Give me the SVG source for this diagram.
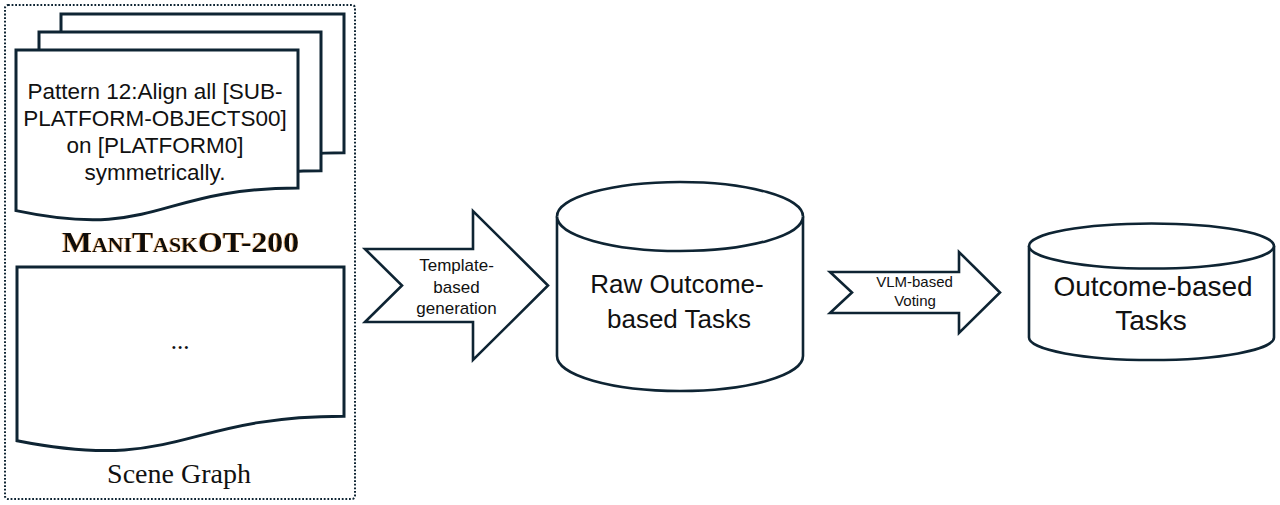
<svg xmlns="http://www.w3.org/2000/svg" width="1280" height="505" viewBox="0 0 1280 505">
  <style>
    .shape { fill: #ffffff; stroke: #0e2433; stroke-width: 2.6; stroke-linejoin: miter; }
    .doc { fill: #ffffff; stroke: #0e2433; stroke-width: 3; }
    .sans { font-family: "Liberation Sans", Arial, sans-serif; fill: #111111; text-anchor: middle; }
    .serif { font-family: "Liberation Serif", "Times New Roman", serif; fill: #111111; text-anchor: middle; }
  </style>
  <defs>
    <filter id="glow" x="-5%" y="-20%" width="110%" height="140%">
      <feDropShadow dx="-0.7" dy="0" stdDeviation="0.35" flood-color="#e0892a" flood-opacity="0.8"/>
    </filter>
  </defs>
  <rect width="1280" height="505" fill="#ffffff"/>

  <g id="source-panel">
    <rect x="5" y="5" width="350" height="494" rx="3" fill="none" stroke="#0e2433" stroke-width="2" stroke-dasharray="1.8 1.8"/>
  </g>

  <g id="pattern-docs">
    <path class="doc" d="M61,14 H344 V152.7 C202.5,152.7 202.5,205.5 61,175.6 Z"/>
    <path class="doc" d="M39,32 H321 V170.7 C180,170.7 180,223.5 39,193.7 Z"/>
    <path class="doc" d="M16,50 H298 V188 C157,188 157,240.4 16,210.6 Z"/>
    <text class="sans" font-size="22.5" x="155" y="99">Pattern 12:Align all [SUB-</text>
    <text class="sans" font-size="22.5" x="155" y="126">PLATFORM-OBJECTS00]</text>
    <text class="sans" font-size="22.5" x="155" y="153">on [PLATFORM0]</text>
    <text class="sans" font-size="22.5" x="155" y="180">symmetrically.</text>
  </g>

  <g id="manitask-label">
    <text class="serif" x="180.5" y="252" font-size="29" font-weight="bold" font-variant="small-caps" textLength="237" lengthAdjust="spacingAndGlyphs" fill="#111111" filter="url(#glow)">ManiTaskOT-200</text>
  </g>

  <g id="scene-graph">
    <path class="doc" d="M17,267 H344 V416.2 C180.5,416.2 180.5,472.9 17,440.7 Z"/>
    <text class="serif" x="180" y="349" font-size="25">...</text>
    <text class="serif" x="179" y="483" font-size="28">Scene Graph</text>
  </g>

  <g id="connectors">
    <g id="template-arrow">
      <path class="shape" d="M365,249 H473 V211 L548,285.5 L473,360 V322 H365 L402,285.5 Z"/>
      <text class="sans" font-size="17" x="456.5" y="271">Template-</text>
      <text class="sans" font-size="17" x="456.5" y="293">based</text>
      <text class="sans" font-size="17" x="456.5" y="314">generation</text>
    </g>
    <g id="vlm-arrow">
      <path class="shape" d="M830,272 H959 V252 L1000,292.5 L959,333 V313 H830 L852,292.5 Z"/>
      <text class="sans" font-size="15" x="914.5" y="287">VLM-based</text>
      <text class="sans" font-size="15" x="915" y="306">Voting</text>
    </g>
  </g>

  <g id="raw-tasks">
    <path class="shape" d="M557,216.5 V356 A123,35 0 0 0 803,356 V216.5 A123,34.5 0 0 0 557,216.5 Z"/>
    <path class="shape" fill="none" d="M557,216.5 A123,34.5 0 0 0 803,216.5"/>
    <text class="sans" font-size="26" x="677" y="293">Raw Outcome-</text>
    <text class="sans" font-size="26" x="679" y="328">based Tasks</text>
  </g>

  <g id="outcome-tasks">
    <path class="shape" d="M1029,246 V337.5 A122.5,22.5 0 0 0 1274,337.5 V246 A122.5,22.5 0 0 0 1029,246 Z"/>
    <path class="shape" fill="none" d="M1029,246 A122.5,22.5 0 0 0 1274,246"/>
    <text class="sans" font-size="28" x="1153" y="296">Outcome-based</text>
    <text class="sans" font-size="28" x="1151" y="330">Tasks</text>
  </g>
</svg>
